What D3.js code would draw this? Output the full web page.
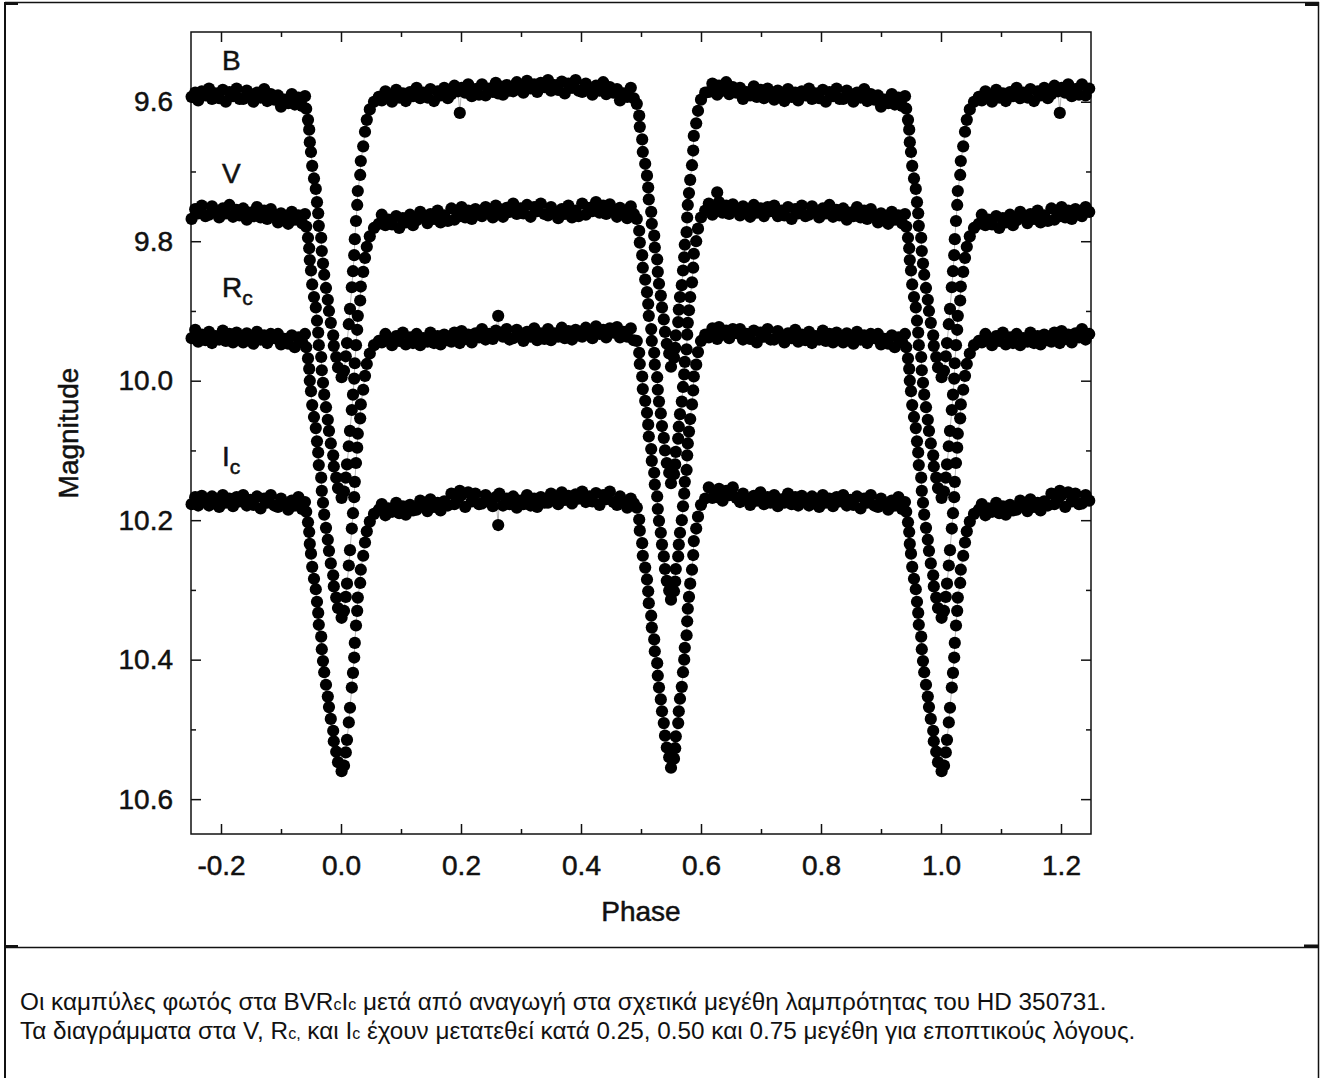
<!DOCTYPE html>
<html>
<head>
<meta charset="utf-8">
<script src="https://cdn.jsdelivr.net/npm/d3@7"></script>
<style>
  body { margin: 0; background: #fff; }
  svg { display: block; font-family: "Liberation Sans", Arial, Helvetica, sans-serif; }
</style>
</head>
<body>
<div class="chart"></div>
<script>

// folded phase of each observation (0..1), shared by the four filters
let phase = [
  // primary egress
  0.001, 0.005, 0.008, 0.010, 0.013, 0.015, 0.018, 0.020, 0.022, 0.023,
  0.025, 0.027, 0.028, 0.032, 0.033, 0.037, 0.040, 0.043, 0.048, 0.055,
  0.063,
  // out of eclipse
  0.068, 0.074, 0.079, 0.085, 0.092, 0.097, 0.103, 0.108, 0.115, 0.120,
  0.126, 0.132, 0.137, 0.144, 0.149, 0.155, 0.161, 0.166, 0.172, 0.178,
  0.184, 0.189, 0.195, 0.198, 0.201, 0.207, 0.212, 0.218, 0.224, 0.230,
  0.235, 0.241, 0.247, 0.253, 0.258, 0.262, 0.264, 0.270, 0.276, 0.281,
  0.287, 0.293, 0.299, 0.304, 0.310, 0.316, 0.322, 0.327, 0.333, 0.339,
  0.345, 0.350, 0.356, 0.362, 0.368, 0.373, 0.379, 0.385, 0.391, 0.396,
  0.402, 0.408, 0.414, 0.419, 0.425, 0.431, 0.437, 0.442, 0.448, 0.454,
  0.460, 0.465, 0.471, 0.477, 0.483, 0.488,
  // secondary ingress
  0.493, 0.497, 0.498, 0.502, 0.503, 0.507, 0.510, 0.512, 0.513, 0.517,
  0.518, 0.522, 0.523, 0.527, 0.528, 0.530, 0.533, 0.535, 0.538, 0.540,
  0.543, 0.547, 0.550,
  // secondary egress
  0.555, 0.557, 0.558, 0.562, 0.563, 0.565, 0.568, 0.570, 0.572, 0.573,
  0.576, 0.577, 0.578, 0.580, 0.582, 0.585, 0.587, 0.588, 0.592, 0.595,
  0.600, 0.607,
  // out of eclipse
  0.613, 0.619, 0.624, 0.627, 0.630, 0.636, 0.642, 0.647, 0.653, 0.659,
  0.665, 0.670, 0.676, 0.682, 0.688, 0.693, 0.699, 0.705, 0.711, 0.716,
  0.722, 0.728, 0.734, 0.739, 0.745, 0.751, 0.757, 0.762, 0.768, 0.774,
  0.780, 0.785, 0.791, 0.797, 0.803, 0.808, 0.814, 0.820, 0.826, 0.831,
  0.837, 0.843, 0.849, 0.854, 0.860, 0.866, 0.872, 0.877, 0.883, 0.889,
  0.895, 0.900, 0.906, 0.912, 0.918, 0.923, 0.929, 0.935, 0.940,
  // primary ingress
  0.942, 0.945, 0.947, 0.948, 0.950, 0.952, 0.955, 0.958, 0.960, 0.962,
  0.963, 0.967, 0.968, 0.970, 0.972, 0.975, 0.978, 0.980, 0.983, 0.987,
  0.988, 0.992, 0.995
];

let magB = [
  9.995, 9.986, 9.965, 9.946, 9.919, 9.897, 9.866, 9.843, 9.820, 9.797,
  9.771, 9.748, 9.728, 9.705, 9.685, 9.664, 9.643, 9.626, 9.611, 9.600,
  9.593,
  9.598, 9.585, 9.592, 9.600, 9.583, 9.594, 9.588, 9.599, 9.586, 9.592,
  9.580, 9.595, 9.587, 9.594, 9.582, 9.599, 9.585, 9.591, 9.580, 9.595,
  9.589, 9.577, 9.585, 9.616, 9.580, 9.587, 9.575, 9.592, 9.582, 9.590,
  9.575, 9.591, 9.581, 9.586, 9.573, 9.588, 9.578, 9.590, 9.576, 9.584,
  9.585, 9.572, 9.579, 9.587, 9.570, 9.581, 9.575, 9.586, 9.573, 9.579,
  9.569, 9.584, 9.576, 9.583, 9.571, 9.588, 9.574, 9.580, 9.569, 9.584,
  9.586, 9.574, 9.582, 9.590, 9.577, 9.584, 9.572, 9.589, 9.579, 9.587,
  9.582, 9.598, 9.588, 9.593, 9.580, 9.595,
  9.603, 9.620, 9.636, 9.654, 9.672, 9.689, 9.706, 9.723, 9.740, 9.758,
  9.775, 9.792, 9.809, 9.826, 9.844, 9.861, 9.878, 9.895, 9.912, 9.930,
  9.947, 9.961, 9.980,
  9.967, 9.953, 9.935, 9.916, 9.898, 9.880, 9.863, 9.842, 9.823, 9.805,
  9.787, 9.766, 9.748, 9.731, 9.712, 9.691, 9.670, 9.649, 9.631, 9.613,
  9.597, 9.587,
  9.586, 9.574, 9.582, 9.590, 9.577, 9.584, 9.572, 9.589, 9.579, 9.587,
  9.580, 9.596, 9.586, 9.591, 9.578, 9.593, 9.583, 9.595, 9.581, 9.589,
  9.597, 9.584, 9.591, 9.599, 9.582, 9.593, 9.587, 9.598, 9.585, 9.591,
  9.581, 9.596, 9.588, 9.595, 9.583, 9.600, 9.586, 9.592, 9.581, 9.596,
  9.596, 9.584, 9.592, 9.600, 9.587, 9.594, 9.582, 9.599, 9.589, 9.597,
  9.591, 9.607, 9.597, 9.602, 9.589, 9.604, 9.594, 9.606, 9.592,
  9.610, 9.626, 9.640, 9.658, 9.672, 9.692, 9.710, 9.725, 9.744, 9.760,
  9.778, 9.795, 9.814, 9.832, 9.848, 9.867, 9.884, 9.900, 9.917, 9.935,
  9.950, 9.966, 9.981
];

let magV = [
  10.168, 10.159, 10.139, 10.120, 10.094, 10.072, 10.042, 10.020, 9.997, 9.975,
  9.949, 9.927, 9.907, 9.885, 9.865, 9.844, 9.824, 9.808, 9.793, 9.781,
  9.775,
  9.762, 9.777, 9.769, 9.776, 9.764, 9.781, 9.767, 9.773, 9.762, 9.777,
  9.770, 9.758, 9.766, 9.774, 9.761, 9.768, 9.756, 9.773, 9.763, 9.771,
  9.753, 9.769, 9.759, 9.764, 9.751, 9.766, 9.756, 9.768, 9.754, 9.762,
  9.764, 9.751, 9.758, 9.766, 9.749, 9.760, 9.754, 9.765, 9.752, 9.758,
  9.746, 9.761, 9.753, 9.760, 9.748, 9.765, 9.751, 9.757, 9.746, 9.761,
  9.763, 9.751, 9.759, 9.767, 9.754, 9.761, 9.749, 9.766, 9.756, 9.764,
  9.746, 9.762, 9.752, 9.757, 9.744, 9.759, 9.749, 9.761, 9.747, 9.755,
  9.765, 9.752, 9.759, 9.767, 9.750, 9.761,
  9.768, 9.785, 9.802, 9.820, 9.838, 9.855, 9.873, 9.890, 9.907, 9.926,
  9.943, 9.960, 9.977, 9.995, 10.013, 10.030, 10.047, 10.065, 10.082, 10.100,
  10.118, 10.132, 10.147,
  10.134, 10.120, 10.102, 10.083, 10.066, 10.048, 10.030, 10.009, 9.991, 9.973,
  9.955, 9.934, 9.917, 9.899, 9.880, 9.859, 9.838, 9.818, 9.800, 9.782,
  9.766, 9.756,
  9.746, 9.762, 9.752, 9.730, 9.744, 9.759, 9.749, 9.761, 9.747, 9.755,
  9.763, 9.750, 9.757, 9.765, 9.748, 9.759, 9.753, 9.764, 9.751, 9.757,
  9.749, 9.764, 9.756, 9.763, 9.751, 9.768, 9.754, 9.760, 9.749, 9.764,
  9.762, 9.750, 9.758, 9.766, 9.753, 9.760, 9.748, 9.765, 9.755, 9.763,
  9.753, 9.769, 9.759, 9.764, 9.751, 9.766, 9.756, 9.768, 9.754, 9.762,
  9.773, 9.760, 9.767, 9.775, 9.758, 9.769, 9.763, 9.774, 9.761,
  9.779, 9.795, 9.810, 9.827, 9.842, 9.862, 9.880, 9.895, 9.914, 9.931,
  9.949, 9.966, 9.985, 10.003, 10.020, 10.038, 10.056, 10.072, 10.090, 10.107,
  10.123, 10.139, 10.154
];

let magRc = [
  10.340, 10.330, 10.310, 10.291, 10.265, 10.243, 10.212, 10.190, 10.167, 10.145,
  10.118, 10.096, 10.076, 10.054, 10.034, 10.013, 9.993, 9.976, 9.961, 9.949,
  9.943,
  9.945, 9.933, 9.941, 9.949, 9.936, 9.943, 9.931, 9.948, 9.938, 9.946,
  9.933, 9.949, 9.939, 9.944, 9.931, 9.946, 9.936, 9.948, 9.934, 9.942,
  9.944, 9.931, 9.938, 9.946, 9.929, 9.940, 9.934, 9.945, 9.932, 9.938,
  9.926, 9.941, 9.933, 9.940, 9.928, 9.907, 9.931, 9.937, 9.926, 9.941,
  9.939, 9.927, 9.935, 9.943, 9.930, 9.937, 9.925, 9.942, 9.932, 9.940,
  9.926, 9.942, 9.932, 9.937, 9.924, 9.939, 9.929, 9.941, 9.927, 9.935,
  9.937, 9.924, 9.931, 9.939, 9.922, 9.933, 9.927, 9.938, 9.925, 9.931,
  9.923, 9.938, 9.930, 9.937, 9.925, 9.942,
  9.943, 9.960, 9.976, 9.994, 10.012, 10.029, 10.046, 10.063, 10.080, 10.098,
  10.115, 10.132, 10.149, 10.166, 10.184, 10.201, 10.218, 10.235, 10.252, 10.270,
  10.287, 10.301, 10.314,
  10.302, 10.288, 10.270, 10.252, 10.235, 10.218, 10.200, 10.180, 10.162, 10.145,
  10.128, 10.107, 10.090, 10.073, 10.055, 10.034, 10.014, 9.994, 9.977, 9.959,
  9.943, 9.934,
  9.938, 9.925, 9.932, 9.940, 9.923, 9.934, 9.928, 9.939, 9.926, 9.932,
  9.926, 9.941, 9.933, 9.940, 9.928, 9.945, 9.931, 9.937, 9.926, 9.941,
  9.941, 9.929, 9.937, 9.945, 9.932, 9.939, 9.927, 9.944, 9.934, 9.942,
  9.930, 9.946, 9.936, 9.941, 9.928, 9.943, 9.933, 9.945, 9.931, 9.939,
  9.945, 9.932, 9.939, 9.947, 9.930, 9.941, 9.935, 9.946, 9.933, 9.939,
  9.933, 9.948, 9.940, 9.947, 9.935, 9.952, 9.938, 9.944, 9.933,
  9.952, 9.968, 9.983, 10.000, 10.015, 10.035, 10.052, 10.068, 10.087, 10.103,
  10.121, 10.139, 10.158, 10.175, 10.192, 10.211, 10.228, 10.244, 10.262, 10.279,
  10.295, 10.311, 10.326
];

let magIc = [
  10.560, 10.552, 10.533, 10.515, 10.490, 10.469, 10.440, 10.419, 10.397, 10.376,
  10.351, 10.330, 10.311, 10.290, 10.271, 10.251, 10.232, 10.216, 10.202, 10.191,
  10.185,
  10.177, 10.193, 10.183, 10.188, 10.175, 10.190, 10.180, 10.192, 10.178, 10.186,
  10.185, 10.172, 10.179, 10.187, 10.170, 10.181, 10.175, 10.186, 10.173, 10.179,
  10.162, 10.177, 10.169, 10.158, 10.164, 10.181, 10.160, 10.173, 10.162, 10.177,
  10.176, 10.164, 10.172, 10.180, 10.167, 10.207, 10.162, 10.179, 10.169, 10.177,
  10.166, 10.182, 10.172, 10.177, 10.164, 10.179, 10.169, 10.181, 10.167, 10.175,
  10.175, 10.162, 10.169, 10.177, 10.160, 10.171, 10.165, 10.176, 10.163, 10.169,
  10.159, 10.174, 10.166, 10.173, 10.161, 10.178, 10.164, 10.170, 10.159, 10.174,
  10.178, 10.166, 10.174, 10.182, 10.169, 10.176,
  10.182, 10.199, 10.215, 10.233, 10.251, 10.268, 10.285, 10.302, 10.319, 10.337,
  10.354, 10.371, 10.388, 10.405, 10.423, 10.440, 10.457, 10.474, 10.491, 10.509,
  10.526, 10.540, 10.555,
  10.542, 10.527, 10.510, 10.491, 10.474, 10.456, 10.439, 10.418, 10.400, 10.383,
  10.365, 10.345, 10.327, 10.310, 10.291, 10.271, 10.250, 10.230, 10.212, 10.195,
  10.178, 10.169,
  10.153, 10.168, 10.160, 10.167, 10.155, 10.172, 10.158, 10.164, 10.153, 10.168,
  10.174, 10.162, 10.170, 10.178, 10.165, 10.172, 10.160, 10.177, 10.167, 10.175,
  10.164, 10.180, 10.170, 10.175, 10.162, 10.177, 10.167, 10.179, 10.165, 10.173,
  10.179, 10.166, 10.173, 10.181, 10.164, 10.175, 10.169, 10.180, 10.167, 10.173,
  10.164, 10.179, 10.171, 10.178, 10.166, 10.183, 10.169, 10.175, 10.164, 10.179,
  10.181, 10.169, 10.177, 10.185, 10.172, 10.179, 10.167, 10.184, 10.174,
  10.188, 10.203, 10.217, 10.234, 10.248, 10.267, 10.284, 10.299, 10.317, 10.333,
  10.350, 10.367, 10.385, 10.402, 10.418, 10.436, 10.453, 10.468, 10.485, 10.502,
  10.517, 10.532, 10.547
];

let bandNames = ['B', 'V', 'R', 'I'];
let bandSubs = ['', '', 'c', 'c'];
let bandMags = [magB, magV, magRc, magIc];

let xTicks = [-0.2, 0.0, 0.2, 0.4, 0.6, 0.8, 1.0, 1.2];
let xMinor = [-0.1, 0.1, 0.3, 0.5, 0.7, 0.9, 1.1];
let yTicks = [9.6, 9.8, 10.0, 10.2, 10.4, 10.6];
let yMinor = [9.7, 9.9, 10.1, 10.3, 10.5];

bandMags.forEach((m, i) => {
  if (m.length !== phase.length) throw new Error('band ' + bandNames[i] + ' has ' + m.length + ' values, phase has ' + phase.length);
});

let margin = { top: 32, right: 231, bottom: 244, left: 191 };
let width = 1322 - margin.left - margin.right;
let height = 1078 - margin.top - margin.bottom;

let svg = d3.select('.chart')
  .append('svg')
    .attr('width', 1322)
    .attr('height', 1078);

svg.append('rect').attr('width', 1322).attr('height', 1078).attr('fill', '#fff');

// table frame around figure and caption
let frame = svg.append('g').attr('stroke', '#111').attr('fill', 'none');
frame.append('line').attr('x1', 5).attr('x2', 1319).attr('y1', 2.5).attr('y2', 2.5).attr('stroke-width', 1.5);
frame.append('line').attr('x1', 5).attr('x2', 5).attr('y1', 2).attr('y2', 1078).attr('stroke-width', 2);
frame.append('line').attr('x1', 1318.5).attr('x2', 1318.5).attr('y1', 2).attr('y2', 1078).attr('stroke-width', 1.5);
frame.append('line').attr('x1', 5).attr('x2', 1319).attr('y1', 947.5).attr('y2', 947.5).attr('stroke-width', 1.5);
svg.append('g').attr('fill', '#111').selectAll('rect')
  .data([[5, 2, 13, 3], [1305, 2, 14, 4], [5, 945, 13, 2.5], [1304, 944.5, 14, 2.5]])
  .join('rect')
    .attr('x', d => d[0]).attr('y', d => d[1]).attr('width', d => d[2]).attr('height', d => d[3]);

let g = svg.append('g')
  .attr('transform', `translate(${margin.left}, ${margin.top})`);

let x = d3.scaleLinear()
  .domain([-0.25, 1.25])
  .range([0, width]);

let y = d3.scaleLinear()
  .domain([9.5, 10.65])
  .range([0, height]);

function styleAxis(sel) {
  sel.select('.domain').remove();
  sel.selectAll('line').attr('stroke', '#111').attr('stroke-width', 1.5);
  sel.selectAll('text').attr('fill', '#111').attr('stroke', '#111').attr('stroke-width', 0.5);
  sel.attr('font-size', 28).attr('font-family', null);
}

let fmt = d => d.toFixed(1);

g.append('g')
  .attr('transform', `translate(0, ${height})`)
  .call(d3.axisBottom(x).tickValues(xTicks).tickSizeInner(-10).tickSizeOuter(0).tickPadding(21).tickFormat(fmt))
  .call(styleAxis);
g.append('g')
  .attr('transform', `translate(0, ${height})`)
  .call(d3.axisBottom(x).tickValues(xMinor).tickSizeInner(-5).tickSizeOuter(0).tickFormat(''))
  .call(styleAxis);
g.append('g')
  .call(d3.axisTop(x).tickValues(xTicks).tickSizeInner(-10).tickSizeOuter(0).tickFormat(''))
  .call(styleAxis);
g.append('g')
  .call(d3.axisTop(x).tickValues(xMinor).tickSizeInner(-5).tickSizeOuter(0).tickFormat(''))
  .call(styleAxis);

g.append('g')
  .call(d3.axisLeft(y).tickValues(yTicks).tickSizeInner(-10).tickSizeOuter(0).tickPadding(18).tickFormat(fmt))
  .call(styleAxis);
g.append('g')
  .call(d3.axisLeft(y).tickValues(yMinor).tickSizeInner(-5).tickSizeOuter(0).tickFormat(''))
  .call(styleAxis);
g.append('g')
  .attr('transform', `translate(${width}, 0)`)
  .call(d3.axisRight(y).tickValues(yTicks).tickSizeInner(-10).tickSizeOuter(0).tickFormat(''))
  .call(styleAxis);
g.append('g')
  .attr('transform', `translate(${width}, 0)`)
  .call(d3.axisRight(y).tickValues(yMinor).tickSizeInner(-5).tickSizeOuter(0).tickFormat(''))
  .call(styleAxis);

g.append('rect')
  .attr('width', width)
  .attr('height', height)
  .attr('fill', 'none')
  .attr('stroke', '#111')
  .attr('stroke-width', 1.5);

// the folded light curve is shown over 1.5 cycles, so each point is repeated one cycle earlier and later
function cycles(mags) {
  let pts = [];
  [-1, 0, 1].forEach(k => {
    phase.forEach((p, i) => {
      let ph = p + k;
      if (ph >= -0.252 && ph <= 1.252) pts.push([ph, mags[i]]);
    });
  });
  return pts.sort((a, b) => a[0] - b[0]);
}

let line = d3.line().x(d => x(d[0])).y(d => y(d[1]));

bandMags.forEach(mags => {
  let pts = cycles(mags);
  g.append('path')
    .datum(pts)
    .attr('d', line)
    .attr('fill', 'none')
    .attr('stroke', '#b8b8b8')
    .attr('stroke-width', 1);
  g.append('g')
    .selectAll('circle')
    .data(pts)
    .join('circle')
      .attr('cx', d => x(d[0]))
      .attr('cy', d => y(d[1]))
      .attr('r', 6.1)
      .attr('fill', '#000');
});

// filter labels
let labelY = [70, 183, 297, 466];
bandNames.forEach((n, i) => {
  let t = svg.append('text')
    .attr('x', margin.left + x(-0.2) + 1)
    .attr('y', labelY[i])
    .attr('font-size', 28)
    .attr('fill', '#111')
    .attr('stroke', '#111')
    .attr('stroke-width', 0.5)
    .text(n);
  if (bandSubs[i]) {
    t.append('tspan').attr('font-size', 21).attr('dy', 8).text(bandSubs[i]);
  }
});

svg.append('text')
  .attr('x', margin.left + width / 2)
  .attr('y', 921)
  .attr('text-anchor', 'middle')
  .attr('font-size', 28)
  .attr('fill', '#111')
  .attr('stroke', '#111')
  .attr('stroke-width', 0.5)
  .text('Phase');

svg.append('text')
  .attr('transform', `translate(78, ${margin.top + height / 2}) rotate(-90)`)
  .attr('text-anchor', 'middle')
  .attr('font-size', 28)
  .attr('fill', '#111')
  .attr('stroke', '#111')
  .attr('stroke-width', 0.5)
  .text('Magnitude');

// caption
let cap1 = svg.append('text').attr('x', 20).attr('y', 1010).attr('font-size', 24.3).attr('fill', '#111');
cap1.append('tspan').text('Οι καμπύλες φωτός στα BVR');
cap1.append('tspan').attr('font-size', 16).text('c');
cap1.append('tspan').text('I');
cap1.append('tspan').attr('font-size', 16).text('c');
cap1.append('tspan').text(' μετά από αναγωγή στα σχετικά μεγέθη λαμπρότητας του HD 350731.');

let cap2 = svg.append('text').attr('x', 20).attr('y', 1039).attr('font-size', 24.3).attr('fill', '#111');
cap2.append('tspan').text('Τα διαγράμματα στα V, R');
cap2.append('tspan').attr('font-size', 16).text('c,');
cap2.append('tspan').text(' και I');
cap2.append('tspan').attr('font-size', 16).text('c');
cap2.append('tspan').text(' έχουν μετατεθεί κατά 0.25, 0.50 και 0.75 μεγέθη για εποπτικούς λόγους.');

</script>
</body>
</html>
